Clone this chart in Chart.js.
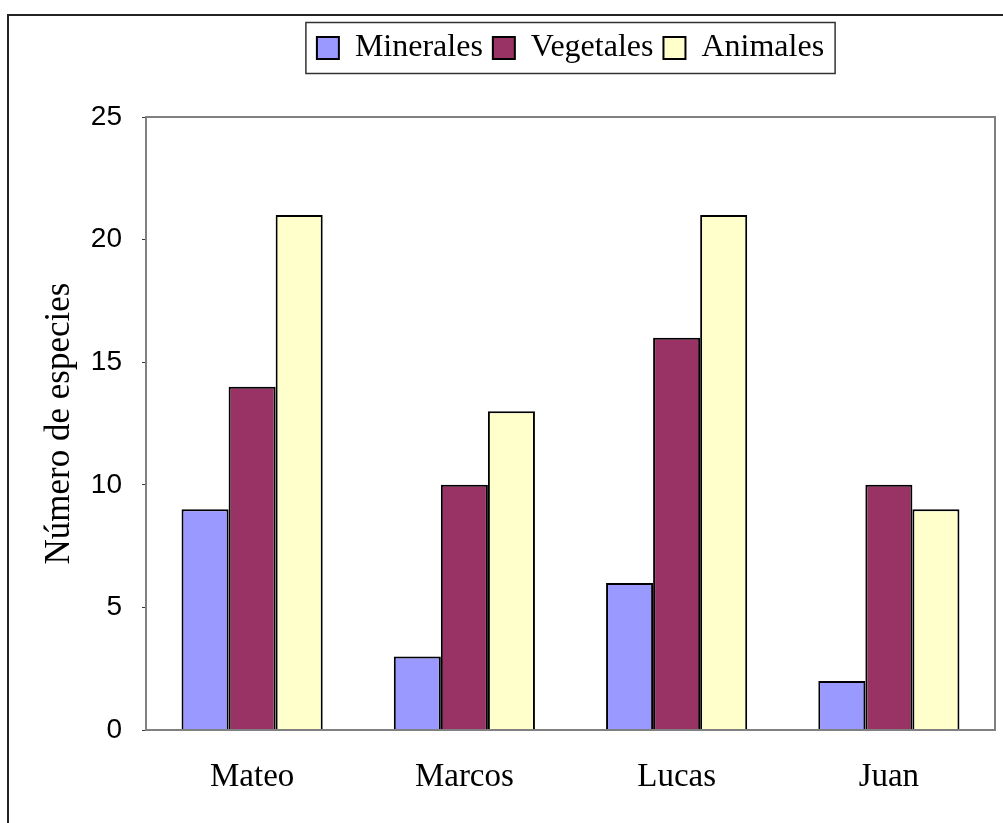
<!DOCTYPE html>
<html>
<head>
<meta charset="utf-8">
<script src="https://cdn.jsdelivr.net/npm/chart.js@4/dist/chart.umd.min.js"></script>
<style>
  html, body { margin: 0; padding: 0; background: #fff; }
  canvas { display: block; }
</style>
</head>
<body>
<canvas id="chart" width="1003" height="823"></canvas>
<script>
  'use strict';

  // Datos del gráfico.
  const categories = ['Mateo', 'Marcos', 'Lucas', 'Juan'];
  const minerales = [9, 3, 6, 2];
  const vegetales = [14, 10, 16, 10];
  const animales = [21, 13, 21, 9];
  const yTicks = [0, 5, 10, 15, 20, 25];

  const serif = '"Liberation Serif", "Times New Roman", serif';
  const sans = '"Liberation Sans", Arial, sans-serif';

  // Marco exterior, borde del área del gráfico y recuadro de la leyenda.
  const framePlugin = {
    id: 'frame',
    afterLayout: function (chart) {
      // Subir la leyenda a la parte alta del marco.
      const legend = chart.legend;
      if (legend) {
        const h = legend.height;
        legend.top = 22;
        legend.bottom = 22 + h;
      }
    },
    beforeDraw: function (chart) {
      const ctx = chart.ctx;
      ctx.save();
      ctx.fillStyle = '#fff';
      ctx.fillRect(0, 0, chart.width, chart.height);
      ctx.strokeStyle = '#222';
      ctx.lineWidth = 2;
      ctx.strokeRect(8, 15, 1000, 820);
      ctx.restore();
    },
    afterDatasetsDraw: function (chart) {
      const a = chart.chartArea;
      const ctx = chart.ctx;
      ctx.save();
      ctx.strokeStyle = '#808080';
      ctx.lineWidth = 2;
      ctx.strokeRect(a.left, a.top, a.right - a.left, a.bottom - a.top);
      ctx.restore();
    },
    afterDraw: function (chart) {
      const boxes = chart.legend && chart.legend.legendHitBoxes;
      if (!boxes || !boxes.length) {
        return;
      }
      let l = Infinity, r = -Infinity, t = Infinity, b = -Infinity;
      boxes.forEach(function (h) {
        l = Math.min(l, h.left);
        r = Math.max(r, h.left + h.width);
        t = Math.min(t, h.top);
        b = Math.max(b, h.top + h.height);
      });
      const cy = (t + b) / 2;
      const ctx = chart.ctx;
      ctx.save();
      ctx.strokeStyle = '#333';
      ctx.lineWidth = 1.5;
      ctx.strokeRect(l - 11, cy - 25.5, r - l + 22, 51);
      ctx.restore();
    }
  };

  new Chart(document.getElementById('chart'), {
    type: 'bar',
    data: {
      labels: categories,
      datasets: [
        { label: 'Minerales', data: minerales, backgroundColor: '#9999FF' },
        { label: 'Vegetales', data: vegetales, backgroundColor: '#993366' },
        { label: 'Animales', data: animales, backgroundColor: '#FFFFCC' }
      ]
    },
    options: {
      responsive: false,
      animation: false,
      devicePixelRatio: 1,
      layout: { padding: { left: 8, top: 22, right: 8, bottom: 0 } },
      datasets: {
        bar: {
          borderColor: '#000',
          borderWidth: 2,
          barPercentage: 1,
          categoryPercentage: 0.665
        }
      },
      plugins: {
        tooltip: { enabled: false },
        legend: {
          position: 'top',
          fullSize: false,
          labels: {
            color: '#000',
            boxWidth: 22,
            boxHeight: 22,
            padding: 10,
            font: { family: serif, size: 32 }
          }
        }
      },
      scales: {
        x: {
          border: { display: false },
          grid: { display: false, drawTicks: false, tickLength: 0 },
          ticks: {
            color: '#000',
            padding: 28,
            font: { family: serif, size: 33 }
          },
          afterFit: function (scale) {
            scale.height = 93;
          }
        },
        y: {
          min: 0,
          max: 25,
          border: { display: false },
          grid: {
            drawOnChartArea: false,
            drawTicks: true,
            tickLength: 4,
            color: '#333'
          },
          afterBuildTicks: function (scale) {
            scale.ticks = yTicks.map(function (v) { return { value: v }; });
          },
          ticks: {
            color: '#000',
            padding: 20,
            font: { family: sans, size: 28 }
          },
          title: {
            display: true,
            text: 'Número de especies',
            color: '#000',
            padding: { top: 31, bottom: 0 },
            font: { family: serif, size: 35 }
          },
          afterFit: function (scale) {
            scale.width = 138;
            scale.paddingTop = 117;
          }
        }
      }
    },
    plugins: [framePlugin]
  });
</script>
</body>
</html>
